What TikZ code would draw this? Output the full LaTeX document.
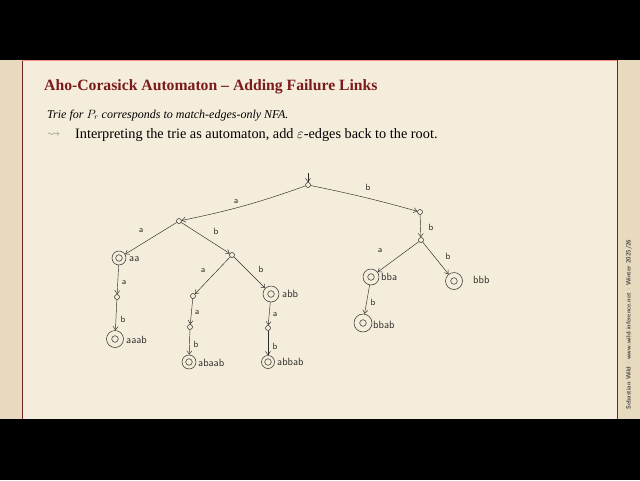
\documentclass[tikz,border=0pt]{standalone}
\usepackage{amssymb}
\usepackage{fontspec}
\setmainfont{Liberation Serif}
\usetikzlibrary{arrows.meta}
\definecolor{cream}{HTML}{F4EDDB}
\definecolor{tan}{HTML}{E7DABE}
\definecolor{titlered}{HTML}{7B1A1A}
\definecolor{framered}{HTML}{6E2424}
\definecolor{ink}{HTML}{2A2A2A}
\definecolor{sidegray}{HTML}{4A4A4A}
\begin{document}
\begin{tikzpicture}[x=1pt,y=-1pt,
  st/.style={circle,draw=ink,line width=0.5pt,inner sep=0pt,minimum size=5pt},
  acc/.style={circle,draw=ink,line width=0.5pt,inner sep=0pt,minimum size=#1,
    path picture={\draw[ink,line width=0.5pt] (path picture bounding box.center) circle (3.3pt);}},
  acc/.default=15pt,
  edge/.style={draw=ink,line width=0.45pt,-{Straight Barb[length=3.5pt,width=5pt]}},
  lab/.style={inner sep=0pt,font=\sffamily\fontsize{9}{9}\selectfont,text=ink},
  wlab/.style={inner sep=0pt,anchor=west,font=\sffamily\fontsize{10.5}{10.5}\selectfont,text=ink}]
\useasboundingbox (0,0) rectangle (640,480);
% background
\fill[black] (0,0) rectangle (640,480);
\fill[tan] (0,60) rectangle (640,419);
\fill[cream] (22,60) rectangle (617,419);
\draw[framered,line width=0.9pt] (22,60) -- (22,419);
\draw[framered,line width=0.9pt] (617,60) -- (617,419);
\draw[red!40!cream,line width=0.6pt] (22,60.5) -- (617,60.5);
% side text
\node[rotate=90,anchor=west,inner sep=0pt,font=\sffamily\bfseries\fontsize{6.3}{6.3}\selectfont,text=sidegray] (side) at (629,410) {Sebastian Wild $\cdot$ www.wild-inference.net $\cdot$ Winter 2025/26};
% title and text
\node[anchor=base west,inner sep=0pt,font=\bfseries\fontsize{15.7}{15.7}\selectfont,text=titlered] (title) at (44,90) {Aho-Corasick Automaton – Adding Failure Links};
\node[anchor=base west,inner sep=0pt,font=\itshape\fontsize{12}{12}\selectfont,text=black] (l1) at (47,118) {Trie for $P_r$ corresponds to match-edges-only NFA.};
\node[anchor=base west,inner sep=0pt,font=\fontsize{14.3}{14.3}\selectfont,text=black] (l2) at (75,138) {Interpreting the trie as automaton, add $\varepsilon$-edges back to the root.};
\node[anchor=base west,inner sep=0pt,font=\fontsize{13}{13}\selectfont,text=gray] (bul) at (47,137) {$\leadsto$};
% states
\node[st] (root) at (308,185) {};
\coordinate (start) at (308,173);
\node[st] (A) at (179,221) {};
\node[st] (B) at (420,212) {};
\node[acc=14pt] (AA) at (119,258) {};
\node[st] (AB) at (232,255) {};
\node[st] (AAa) at (117,297) {};
\node[acc=17pt] (AAab) at (115,339) {};
\node[st] (ABa) at (193,296) {};
\node[acc=16pt] (ABb) at (271,294) {};
\node[st] (ABaa) at (190,327) {};
\node[acc=14pt] (ABaab) at (189,362) {};
\node[st] (ABba) at (268,328) {};
\node[acc=13pt] (ABbab) at (268,362) {};
\node[st] (BB) at (421,240) {};
\node[acc=16pt] (BBa) at (371,277) {};
\node[acc=17pt] (BBb) at (454,281) {};
\node[acc=18pt] (BBab) at (363,323) {};
% edges
\draw[edge] (start) -- (root);
\draw[edge] (root) to[bend left=4] (A);
\draw[edge] (root) to[bend left=2] (B);
\draw[edge] (B) -- (BB);
\draw[edge] (A) -- (AA);
\draw[edge] (A) -- (AB);
\draw[edge] (AA) -- (AAa);
\draw[edge] (AAa) -- (AAab);
\draw[edge] (AB) -- (ABa);
\draw[edge] (AB) -- (ABb);
\draw[edge] (ABa) -- (ABaa);
\draw[edge] (ABaa) -- (ABaab);
\draw[edge] (ABb) -- (ABba);
\draw[edge] (ABba) -- (ABbab);
\draw[edge] (BB) -- (BBa);
\draw[edge] (BB) -- (BBb);
\draw[edge] (BBa) -- (BBab);
% edge labels
\node[lab] (e1) at (236,201) {a};
\node[lab] (e2) at (368,187) {b};
\node[lab] (e3) at (431,227) {b};
\node[lab] (e4) at (141,230) {a};
\node[lab] (e5) at (216,231) {b};
\node[lab] (e6) at (203,270) {a};
\node[lab] (e7) at (261,269) {b};
\node[lab] (e8) at (124,282) {a};
\node[lab] (e9) at (123,319) {b};
\node[lab] (e10) at (197,312) {a};
\node[lab] (e11) at (196,344) {b};
\node[lab] (e12) at (275,314) {a};
\node[lab] (e13) at (275,346) {b};
\node[lab] (e14) at (380,250) {a};
\node[lab] (e15) at (448,256) {b};
\node[lab] (e16) at (373,302) {b};
% word labels
\node[wlab] (w1) at (129,259) {aa};
\node[wlab] (w2) at (126,340) {aaab};
\node[wlab] (w3) at (282,294) {abb};
\node[wlab] (w4) at (198,363) {abaab};
\node[wlab] (w5) at (277,362) {abbab};
\node[wlab] (w6) at (381,277) {bba};
\node[wlab] (w7) at (473,280) {bbb};
\node[wlab] (w8) at (373,325) {bbab};
\end{tikzpicture}
\end{document}
